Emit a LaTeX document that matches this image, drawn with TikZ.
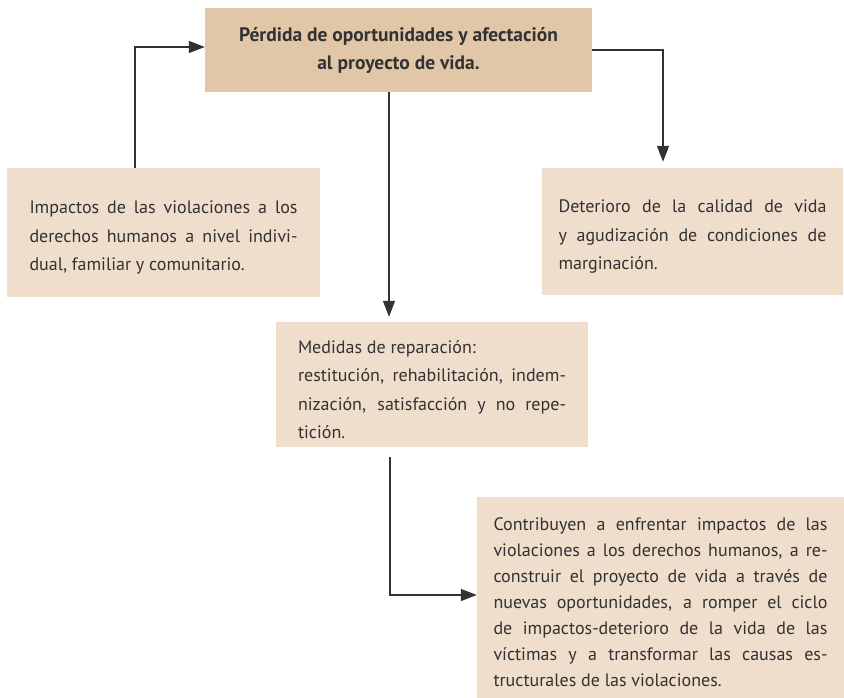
\documentclass[tikz,border=0pt]{standalone}
\usepackage{fontspec}
\setmainfont{PT Sans}
\usetikzlibrary{positioning, arrows.meta}
\definecolor{boxtan}{RGB}{225,198,168}
\definecolor{boxpale}{RGB}{239,222,204}
\definecolor{inkgray}{RGB}{50,50,50}
\hyphenpenalty=10000
\exhyphenpenalty=10000

\begin{document}
\begin{tikzpicture}
[
    x=1pt, y=-1pt,
    tan_node/.style={rectangle, fill=boxtan, text=inkgray, inner sep=0pt, align=center, font=\bfseries\fontsize{19.5}{28}\selectfont},
    pale_node/.style={rectangle, fill=boxpale, text=inkgray, inner sep=0pt, align=justify, text width=268pt, font=\fontsize{18}{28.5}\selectfont, execute at begin node={\rule{0pt}{23pt}}},
    link_arrow/.style={draw=inkgray, line width=1.3pt, -{Triangle[length=16pt, width=12pt]}},
]
    \useasboundingbox (0,0) rectangle (844,698);
    \node[tan_node, minimum width=387pt, minimum height=84pt] (perdida) at (398.5,50) {P\'erdida de oportunidades y afectaci\'on\\al proyecto de vida.} ;
    \node[pale_node, minimum width=313pt, minimum height=129pt] (impactos) at (163.5,232.5) {Impactos de las violaciones a los\linebreak derechos humanos a nivel indivi-\linebreak dual, familiar y comunitario.} ;
    \node[pale_node, minimum width=301pt, minimum height=127pt] (deterioro) at (692.5,231.5) {Deterioro de la calidad de vida\linebreak y agudizaci\'on de condiciones de\linebreak marginaci\'on.} ;
    \node[pale_node, minimum width=312pt, minimum height=125pt] (medidas) at (432,384.5) {Medidas de reparaci\'on:\\ restituci\'on, rehabilitaci\'on, indem-\linebreak nizaci\'on, satisfacci\'on y no repe-\linebreak tici\'on.} ;
    \node[pale_node, text width=334pt, font=\fontsize{18}{26}\selectfont, minimum width=367pt, minimum height=201pt] (contribuyen) at (660.5,597.5) {Contribuyen a enfrentar impactos de las\linebreak violaciones a los derechos humanos, a re-\linebreak construir el proyecto de vida a trav\'es de\linebreak nuevas oportunidades, a romper el ciclo\linebreak de impactos-deterioro de la vida de las\linebreak v\'ictimas y a transformar las causas es-\linebreak tructurales de las violaciones.} ;
    \draw[link_arrow] ([xshift=-28.5pt]impactos.north) |- ([yshift=3pt]perdida.west) ;
    \draw[link_arrow, shorten >=6pt] (perdida.east) -| ([xshift=-29.5pt]deterioro.north) ;
    \draw[link_arrow, shorten >=5pt] ([xshift=-9.5pt]perdida.south) -- ([xshift=-9.5pt]perdida.south |- medidas.north) ;
    \draw[link_arrow] ([xshift=-42pt, yshift=-10pt]medidas.south) |- ([yshift=2.5pt]contribuyen.west) ;
\end{tikzpicture}
\end{document}
